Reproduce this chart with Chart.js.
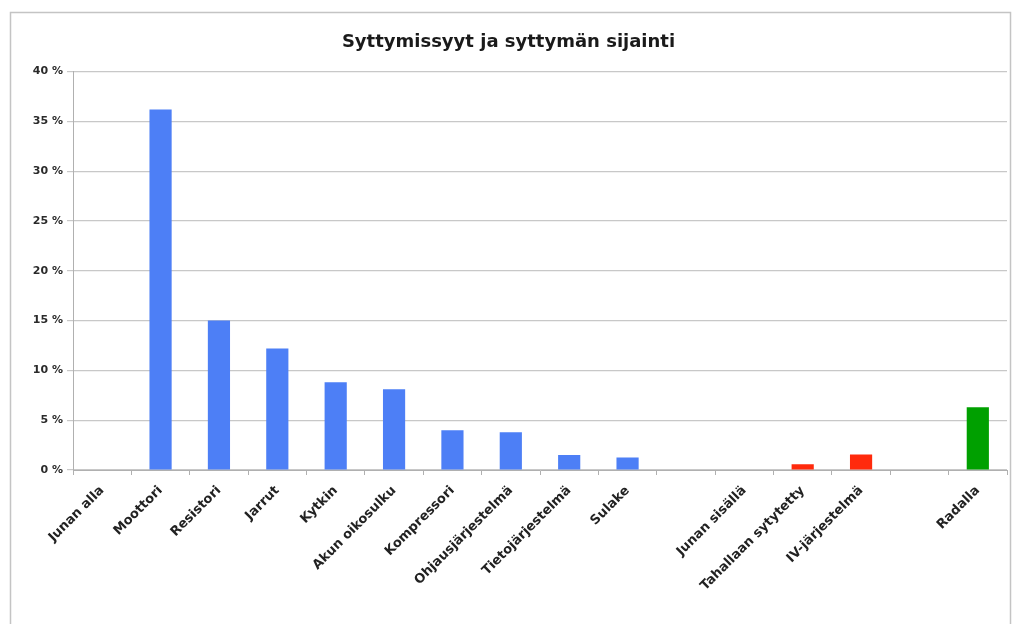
<!DOCTYPE html>
<html>
<head>
<meta charset="utf-8">
<script src="https://cdn.jsdelivr.net/npm/chart.js@4.4.1/dist/chart.umd.min.js"></script>
<style>
  html, body { margin: 0; padding: 0; background: #ffffff; }
  #wrap { width: 1014px; height: 624px; position: relative; }
</style>
</head>
<body>
<div id="wrap"><canvas id="c" width="1014" height="624"></canvas></div>
<script>
// ---- data ----
const title = "Syttymissyyt ja syttymän sijainti";
const categories = ["Junan alla", "Moottori", "Resistori", "Jarrut", "Kytkin", "Akun oikosulku",
  "Kompressori", "Ohjausjärjestelmä", "Tietojärjestelmä", "Sulake", "",
  "Junan sisällä", "Tahallaan sytytetty", "IV-järjestelmä", "", "Radalla"];
const values = [0, 36.2, 15.0, 12.2, 8.8, 8.1, 4.0, 3.8, 1.5, 1.25, null, 0, 0.57, 1.55, null, 6.3];
const groups = ["alla", "alla", "alla", "alla", "alla", "alla", "alla", "alla", "alla", "alla", "",
  "sisalla", "sisalla", "sisalla", "", "radalla"];
const yTicks = [0, 5, 10, 15, 20, 25, 30, 35, 40];

// ---- styles ----
const groupColors = { alla: "#4d7ff6", sisalla: "#ff2a0c", radalla: "#00a000", "": "#ffffff" };
const barColors = groups.map(g => groupColors[g]);

const framePlugin = {
  id: "frame",
  beforeDraw(chart) {
    const ctx = chart.ctx;
    ctx.save();
    ctx.fillStyle = "#ffffff";
    ctx.fillRect(0, 0, chart.width, chart.height);
    ctx.strokeStyle = "#c4c4c4";
    ctx.lineWidth = 1.5;
    ctx.strokeRect(10.5, 12.5, 1000, 640);
    ctx.restore();
  }
};

new Chart(document.getElementById("c"), {
  type: "bar",
  data: {
    labels: categories,
    datasets: [{
      data: values,
      backgroundColor: barColors,
      borderWidth: 0,
      categoryPercentage: 1.0,
      barPercentage: 0.38
    }]
  },
  options: {
    responsive: false,
    animation: false,
    devicePixelRatio: 1,
    layout: { padding: { left: 10, right: 7, top: 0, bottom: 0 } },
    plugins: {
      legend: { display: false },
      tooltip: { enabled: false },
      title: {
        display: true,
        text: title,
        color: "#1a1a1a",
        font: { family: "DejaVu Sans", size: 18, weight: "bold" },
        padding: { top: 32, bottom: 18 }
      }
    },
    scales: {
      x: {
        offset: true,
        grid: {
          offset: true,
          drawOnChartArea: false,
          drawTicks: true,
          tickLength: 5,
          color: "#b0b0b0"
        },
        border: { display: true, color: "#b0b0b0", width: 1 },
        ticks: {
          autoSkip: false,
          maxRotation: 45,
          minRotation: 45,
          color: "#222222",
          padding: 8,
          font: { family: "DejaVu Sans", size: 13, weight: "bold" }
        },
        afterFit(scale) { scale.height = 154; }
      },
      y: {
        min: 0,
        max: 40,
        afterBuildTicks(scale) { scale.ticks = yTicks.map(v => ({ value: v })); },
        grid: {
          color: "#c8c8c8",
          lineWidth: 1.2,
          drawTicks: true,
          tickLength: 6
        },
        border: { display: true, color: "#b0b0b0", width: 1 },
        ticks: {
          color: "#2a2a2a",
          padding: 4,
          font: { family: "DejaVu Sans", size: 11, weight: "bold" },
          callback: v => v + " %"
        },
        afterFit(scale) { scale.width = 63; }
      }
    }
  },
  plugins: [framePlugin]
});
</script>
</body>
</html>
